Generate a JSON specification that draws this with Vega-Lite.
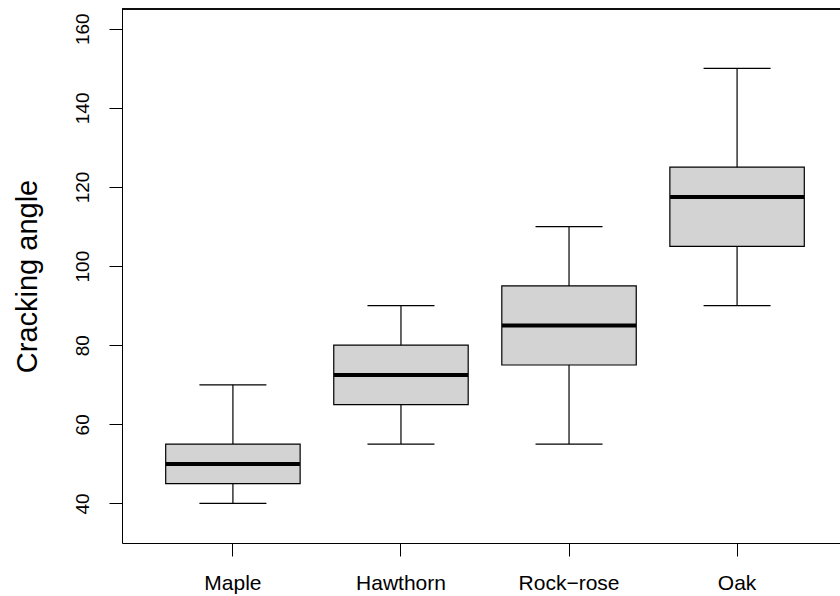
{
  "$schema": "https://vega.github.io/schema/vega-lite/v6.json",
  "autosize": "none",
  "width": 718,
  "height": 534,
  "padding": {"left": 122, "top": 9, "right": 0, "bottom": 53},
  "background": "white",
  "config": {
    "font": "Liberation Sans",
    "view": {"stroke": null},
    "axis": {"grid": false, "domainColor": "black", "tickColor": "black", "labelColor": "black", "titleColor": "black", "domainWidth": 1, "tickWidth": 1}
  },
  "data": {
    "values": [
      {"species": "Maple", "lo": 40, "q1": 45, "med": 50, "q3": 55, "hi": 70},
      {"species": "Hawthorn", "lo": 55, "q1": 65, "med": 72.5, "q3": 80, "hi": 90},
      {"species": "Rock\u2212rose", "lo": 55, "q1": 75, "med": 85, "q3": 95, "hi": 110},
      {"species": "Oak", "lo": 90, "q1": 105, "med": 117.5, "q3": 125, "hi": 150}
    ]
  },
  "encoding": {
    "x": {
      "field": "species",
      "type": "nominal",
      "sort": null,
      "scale": {"range": [0, 726], "paddingInner": 0.2, "paddingOuter": 0.26},
      "axis": {"title": null, "labelAngle": 0, "labelFontSize": 21, "tickSize": 13, "labelPadding": 16}
    }
  },
  "layer": [
    {
      "mark": {"type": "rule", "color": "black", "strokeWidth": 1.2, "opacity": 1},
      "encoding": {
        "y": {
          "field": "lo",
          "type": "quantitative",
          "scale": {"domain": [30, 165], "nice": false, "zero": false},
          "axis": {"title": "Cracking angle", "titleFontSize": 29, "titleFontWeight": "normal", "titlePadding": 31, "values": [40, 60, 80, 100, 120, 140, 160], "labelAngle": -90, "labelAlign": "center", "labelBaseline": "bottom", "labelFontSize": 19, "tickSize": 13, "labelPadding": 17}
        },
        "y2": {"field": "hi"}
      }
    },
    {
      "mark": {"type": "tick", "color": "black", "size": 67, "thickness": 1.2, "opacity": 1},
      "encoding": {"y": {"field": "lo", "type": "quantitative"}}
    },
    {
      "mark": {"type": "tick", "color": "black", "size": 67, "thickness": 1.2, "opacity": 1},
      "encoding": {"y": {"field": "hi", "type": "quantitative"}}
    },
    {
      "mark": {"type": "bar", "fill": "#D3D3D3", "stroke": "black", "strokeWidth": 1.2, "opacity": 1},
      "encoding": {"y": {"field": "q1", "type": "quantitative"}, "y2": {"field": "q3"}}
    },
    {
      "mark": {"type": "tick", "color": "black", "size": 134, "thickness": 4, "opacity": 1},
      "encoding": {"y": {"field": "med", "type": "quantitative"}}
    },
    {
      "mark": {"type": "rule", "color": "black", "strokeWidth": 1.2},
      "encoding": {"y": {"datum": 165, "type": "quantitative"}, "x": null}
    }
  ]
}
